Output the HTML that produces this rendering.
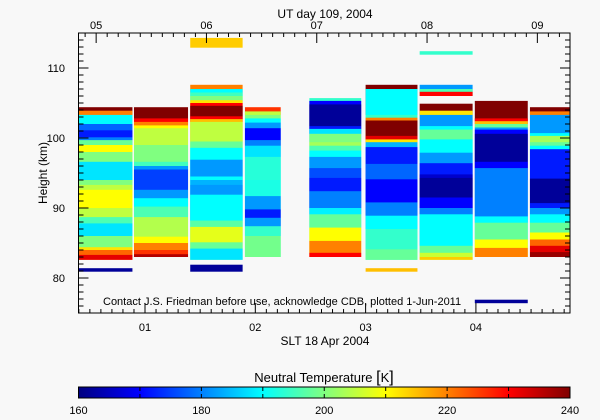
<!DOCTYPE html>
<html><head><meta charset="utf-8"><style>
body{margin:0;background:#f8f8f8;}
svg{display:block;font-family:"Liberation Sans",sans-serif;}
</style></head><body>
<svg id="chart" width="600" height="420" xmlns="http://www.w3.org/2000/svg">
<rect width="600" height="420" fill="#f8f8f8"/>
<g id="marks"></g>
<g id="axes"></g>
<text x="325" y="18" font-size="12" text-anchor="middle">UT day 109, 2004</text>
<text x="325" y="345" font-size="12" text-anchor="middle">SLT 18 Apr 2004</text>
<text transform="translate(47,173) rotate(-90)" font-size="12" text-anchor="middle">Height (km)</text>
<text x="103" y="305" font-size="11">Contact J.S. Friedman before use, acknowledge CDB, plotted 1-Jun-2011</text>
<text x="324" y="382" font-size="13" text-anchor="middle">Neutral Temperature <tspan font-size="16">[</tspan>K<tspan font-size="16">]</tspan></text>
<defs><linearGradient id="jet" x1="0" x2="1" y1="0" y2="0"></linearGradient></defs>
<rect x="78.5" y="387" width="491.5" height="11" fill="url(#jet)" stroke="#000" stroke-width="1"/>
<g id="cbticks"></g>
</svg>
<script>
// ---- data ----
const colStart = [0.38, 0.90, 1.41, 1.906, 2.49, 3.00, 3.49, 3.99, 4.49];
const colEnd   = [0.886, 1.39, 1.885, 2.23, 2.96, 3.47, 3.97, 4.47, 4.97];
const colBase  = [82.6, 83.0, 82.6, 83.0, 83.0, 82.6, 82.6, 83.0, 83.0];
const colTops = [
 [83.3,84,84.4,86,87.8,88.7,90,92.6,93.3,94,96.6,98,99,99.7,100.1,101.1,102,103.3,103.9,104.4],
 [83.4,84,85,85.9,88.7,90.2,91.4,92.6,95.5,96,96.6,99,101.4,101.8,102.3,102.8,104.4],
 [84.2,85.1,87.3,88.2,91.9,93.3,94,94.5,96.9,98.6,99.5,102.3,102.7,103.1,104.6,105,105.4,106,106.5,107,107.6],
 [86,87.4,88.6,89.8,91.7,94,97.3,98.9,99.7,101.4,102.2,102.8,103.3,103.8,104.4],
 [83.6,85.3,87.2,89.1,90,92.4,94.3,95.7,97.3,98.2,98.9,99.4,100.6,101.3,101.7,104.8,105.3,105.7],
 [84.1,87,88.9,90.8,94.1,96.3,98.7,99.4,99.8,100.3,102.5,102.9,103.3,107,107.6],
 [83,83.6,84.6,89.1,90,91.5,94.3,94.8,96.4,97.9,99.8,101.2,101.7,103.3,103.9,104.9,106.0,106.6,107,107.6],
 [84.3,85.5,87.9,88.8,94,95.7,96.6,100.6,101.2,101.5,102,102.4,102.8,105.3],
 [83.7,84.6,85.5,86.5,87.9,89.1,90,90.7,94.2,98.4,98.9,99.4,100.3,100.7,103.3,103.8,104.4]
];
const colTemps = [
 [232,222,212,200,188,196,205,210,205,200,188,200,210,198,180,172,178,190,220,240],
 [236,226,220,210,204,196,190,182,175,182,195,200,205,210,220,230,240],
 [188,198,208,197,190,182,184,190,182,190,198,205,215,230,240,230,212,200,195,190,220],
 [199,194,182,172,182,192,193,188,180,170,182,190,200,205,226],
 [230,220,210,198,189,180,172,176,182,190,196,203,200,188,172,162,170,194],
 [198,194,190,180,170,178,172,184,212,232,240,220,194,190,240],
 [214,206,198,190,180,170,162,166,172,182,190,198,190,182,212,240,-1,230,196,182],
 [220,210,198,190,180,180,170,162,170,182,198,215,230,240],
 [238,232,222,210,198,190,182,172,162,172,190,198,203,190,182,220,240]
];
const extraStart = [0.38, 1.41, 1.41, 3.00, 3.49, 3.99];
const extraEnd   = [0.886, 1.885, 1.885, 3.47, 3.97, 4.47];
const extraLo    = [80.9, 80.9, 112.9, 80.9, 111.9, 76.4];
const extraHi    = [81.4, 81.9, 114.3, 81.4, 112.4, 76.9];
const extraTemp  = [162, 162, 214, 215, 194, 162];
const sltTicks = ["01","02","03","04"];
const sltTickVals = [1,2,3,4];
const utTicks = ["05","06","07","08","09"];
const utTickVals = [0.557,1.557,2.557,3.557,4.557];
const yTickVals = [80,90,100,110];
const cbTickVals = [160,180,200,220,240];
// ---- scales ----
const X0=78.5, X1=570, Y0=33, Y1=313;
const sMin=0.397, sMax=4.853, hMin=75, hMax=115, tMin=160, tMax=240;
const xs = s => X0 + (s - sMin) / (sMax - sMin) * (X1 - X0);
const ys = h => Y1 - (h - hMin) / (hMax - hMin) * (Y1 - Y0);
const cl = v => Math.max(0, Math.min(1, v));
function jet(T){const t=(T-tMin)/(tMax-tMin);
 const r=cl(1.5-Math.abs(4*t-3)), g=cl(1.5-Math.abs(4*t-2)), b=cl(1.5-Math.abs(4*t-1));
 return `rgb(${Math.round(r*255)},${Math.round(g*255)},${Math.round(b*255)})`;}
const NS="http://www.w3.org/2000/svg";
function mk(tag,attrs,parent){const e=document.createElementNS(NS,tag);for(const k in attrs)e.setAttribute(k,attrs[k]);parent.appendChild(e);return e;}
const marks=document.getElementById('marks');
const clip=mk('clipPath',{id:'pc'},document.querySelector('defs'));
mk('rect',{x:X0,y:Y0,width:X1-X0,height:Y1-Y0},clip);
marks.setAttribute('clip-path','url(#pc)');
for(let c=0;c<colTops.length;c++){
 const tops=colTops[c], temps=colTemps[c];
 const xa=xs(colStart[c]), xb=xs(colEnd[c]);
 // draw top-down; each band extends down through the band beneath it (if not a gap)
 for(let i=tops.length-1;i>=0;i--){
  const T=temps[i]; if(T<0) continue;
  const hi=tops[i];
  const lo = i>0 ? tops[i-1] : colBase[c];
  let ext = lo;
  if(i>1 && temps[i-1]>=0) ext = tops[i-2];
  else if(i===1 && temps[0]>=0) ext = colBase[c];
  const r=mk('rect',{x:xa,y:ys(hi),width:xb-xa,height:ys(ext)-ys(hi),fill:jet(T)},marks);
  
  
 }
}
for(let i=0;i<extraTemp.length;i++){
 const xa=xs(extraStart[i]), xb=xs(extraEnd[i]);
 const r=mk('rect',{x:xa,y:ys(extraHi[i]),width:xb-xa,height:ys(extraLo[i])-ys(extraHi[i]),fill:jet(extraTemp[i])},marks);
 
 
}
// ---- axes ----
const ax=document.getElementById('axes');
mk('rect',{x:X0,y:Y0,width:X1-X0,height:Y1-Y0,fill:'none',stroke:'#000','stroke-width':1},ax);
for(let k=4;k<=48;k++){const s=k/10;const x=xs(s);const maj=k%10===0;
 mk('line',{x1:x,x2:x,y1:Y1,y2:Y1-(maj?10:4),stroke:'#000'},ax);}
for(let k=-1;k<=43;k++){const u=0.557+k/10;if(u<sMin||u>sMax)continue;const x=xs(u);const maj=((k%10)+10)%10===0;
 mk('line',{x1:x,x2:x,y1:Y0,y2:Y0+(maj?10:4),stroke:'#000'},ax);}
for(let h=76;h<=114;h++){const y=ys(h);const maj=h%10===0;
 mk('line',{x1:X0,x2:X0+(maj?10:5),y1:y,y2:y,stroke:'#000'},ax);
 mk('line',{x1:X1,x2:X1-(maj?10:5),y1:y,y2:y,stroke:'#000'},ax);}
sltTicks.forEach((t,i)=>{const e=mk('text',{x:xs(sltTickVals[i]),y:331,'font-size':11,'text-anchor':'middle'},ax);e.textContent=t;
 
 });
utTicks.forEach((t,i)=>{const e=mk('text',{x:xs(utTickVals[i]),y:29,'font-size':11,'text-anchor':'middle'},ax);e.textContent=t;
 
 });
yTickVals.forEach(v=>{const e=mk('text',{x:65,y:ys(v)+4,'font-size':11,'text-anchor':'end'},ax);e.textContent=v;
 
 });
// ---- colorbar ----
const g=document.getElementById('jet');
for(let k=0;k<=16;k++){mk('stop',{offset:k/16,'stop-color':jet(tMin+k*5)},g);}
const cb=document.getElementById('cbticks');
for(let t=tMin;t<=tMax;t+=10){const x=X0+(t-tMin)/(tMax-tMin)*(X1-X0);
 mk('line',{x1:x,x2:x,y1:387,y2:391,stroke:'#000'},cb);mk('line',{x1:x,x2:x,y1:398,y2:394,stroke:'#000'},cb);}
cbTickVals.forEach(v=>{const e=mk('text',{x:X0+(v-tMin)/(tMax-tMin)*(X1-X0),y:414,'font-size':11,'text-anchor':'middle'},cb);e.textContent=v;
 
 });
</script>
</body></html>
